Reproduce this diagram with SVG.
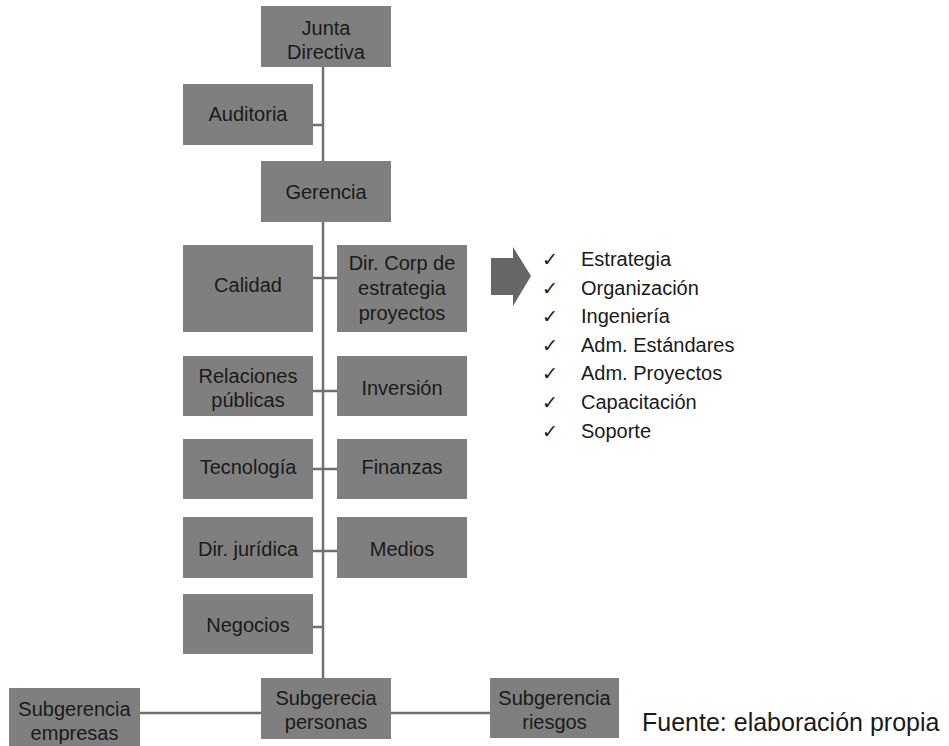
<svg xmlns="http://www.w3.org/2000/svg" width="949" height="746" viewBox="0 0 949 746">
<style>
.box{fill:#7f7f7f}
.t{font-family:"Liberation Sans",Arial,sans-serif;font-size:20px;fill:#1a1a1a;text-anchor:middle}
.l{font-family:"Liberation Sans",Arial,sans-serif;font-size:20px;fill:#1a1a1a}
.ck{font-family:"DejaVu Sans",sans-serif;font-size:19px;fill:#1a1a1a}
.c{stroke:#707070;stroke-width:2.5;fill:none}
</style>
<rect width="949" height="746" fill="#ffffff"/>
<g id="connectors">
<line class="c" x1="323" y1="67" x2="323" y2="678"/>
<line class="c" x1="313" y1="125" x2="323" y2="125"/>
<line class="c" x1="313" y1="278" x2="337" y2="278"/>
<line class="c" x1="313" y1="391" x2="337" y2="391"/>
<line class="c" x1="313" y1="469" x2="337" y2="469"/>
<line class="c" x1="313" y1="551" x2="337" y2="551"/>
<line class="c" x1="313" y1="627" x2="323" y2="627"/>
<line class="c" x1="140" y1="713" x2="261" y2="713"/>
<line class="c" x1="391" y1="713" x2="490" y2="713"/>
</g>
<g id="junta"><rect class="box" x="261" y="6" width="130" height="61"/><text class="t" x="326" y="35">Junta</text><text class="t" x="326" y="59">Directiva</text></g>
<g id="auditoria"><rect class="box" x="183" y="84" width="130" height="61"/><text class="t" x="248" y="121">Auditoria</text></g>
<g id="gerencia"><rect class="box" x="261" y="161" width="130" height="61"/><text class="t" x="326" y="199">Gerencia</text></g>
<g id="calidad"><rect class="box" x="183" y="245" width="130" height="87"/><text class="t" x="248" y="292">Calidad</text></g>
<g id="dircorp"><rect class="box" x="337" y="245" width="130" height="87"/><text class="t" x="402" y="270">Dir. Corp de</text><text class="t" x="402" y="295">estrategia</text><text class="t" x="402" y="320">proyectos</text></g>
<g id="relaciones"><rect class="box" x="183" y="356" width="130" height="60"/><text class="t" x="248" y="383">Relaciones</text><text class="t" x="248" y="407">públicas</text></g>
<g id="inversion"><rect class="box" x="337" y="356" width="130" height="60"/><text class="t" x="402" y="395">Inversión</text></g>
<g id="tecnologia"><rect class="box" x="183" y="439" width="130" height="60"/><text class="t" x="248" y="474">Tecnología</text></g>
<g id="finanzas"><rect class="box" x="337" y="439" width="130" height="60"/><text class="t" x="402" y="474">Finanzas</text></g>
<g id="juridica"><rect class="box" x="183" y="517" width="130" height="61"/><text class="t" x="248" y="556">Dir. jurídica</text></g>
<g id="medios"><rect class="box" x="337" y="517" width="130" height="61"/><text class="t" x="402" y="556">Medios</text></g>
<g id="negocios"><rect class="box" x="183" y="594" width="130" height="60"/><text class="t" x="248" y="632">Negocios</text></g>
<g id="personas"><rect class="box" x="261" y="678" width="130" height="61"/><text class="t" x="326" y="705">Subgerecia</text><text class="t" x="326" y="729">personas</text></g>
<g id="empresas"><rect class="box" x="9" y="688" width="131" height="58"/><text class="t" x="74.5" y="716">Subgerencia</text><text class="t" x="74.5" y="740">empresas</text></g>
<g id="riesgos"><rect class="box" x="490" y="678" width="129" height="60"/><text class="t" x="554.5" y="705">Subgerencia</text><text class="t" x="554.5" y="729">riesgos</text></g>
<g id="arrow"><polygon points="491,258 513,258 513,247 531,276 513,306 513,295 491,295" fill="#666666"/></g>
<g id="list">
<text class="ck" x="542" y="266">✓</text><text class="l" x="581" y="266">Estrategia</text>
<text class="ck" x="542" y="294.6">✓</text><text class="l" x="581" y="294.6">Organización</text>
<text class="ck" x="542" y="323.2">✓</text><text class="l" x="581" y="323.2">Ingeniería</text>
<text class="ck" x="542" y="351.8">✓</text><text class="l" x="581" y="351.8">Adm. Estándares</text>
<text class="ck" x="542" y="380.4">✓</text><text class="l" x="581" y="380.4">Adm. Proyectos</text>
<text class="ck" x="542" y="409">✓</text><text class="l" x="581" y="409">Capacitación</text>
<text class="ck" x="542" y="437.6">✓</text><text class="l" x="581" y="437.6">Soporte</text>
</g>
<text class="l" x="642" y="731" style="font-size:25px">Fuente: elaboración propia</text>
</svg>
